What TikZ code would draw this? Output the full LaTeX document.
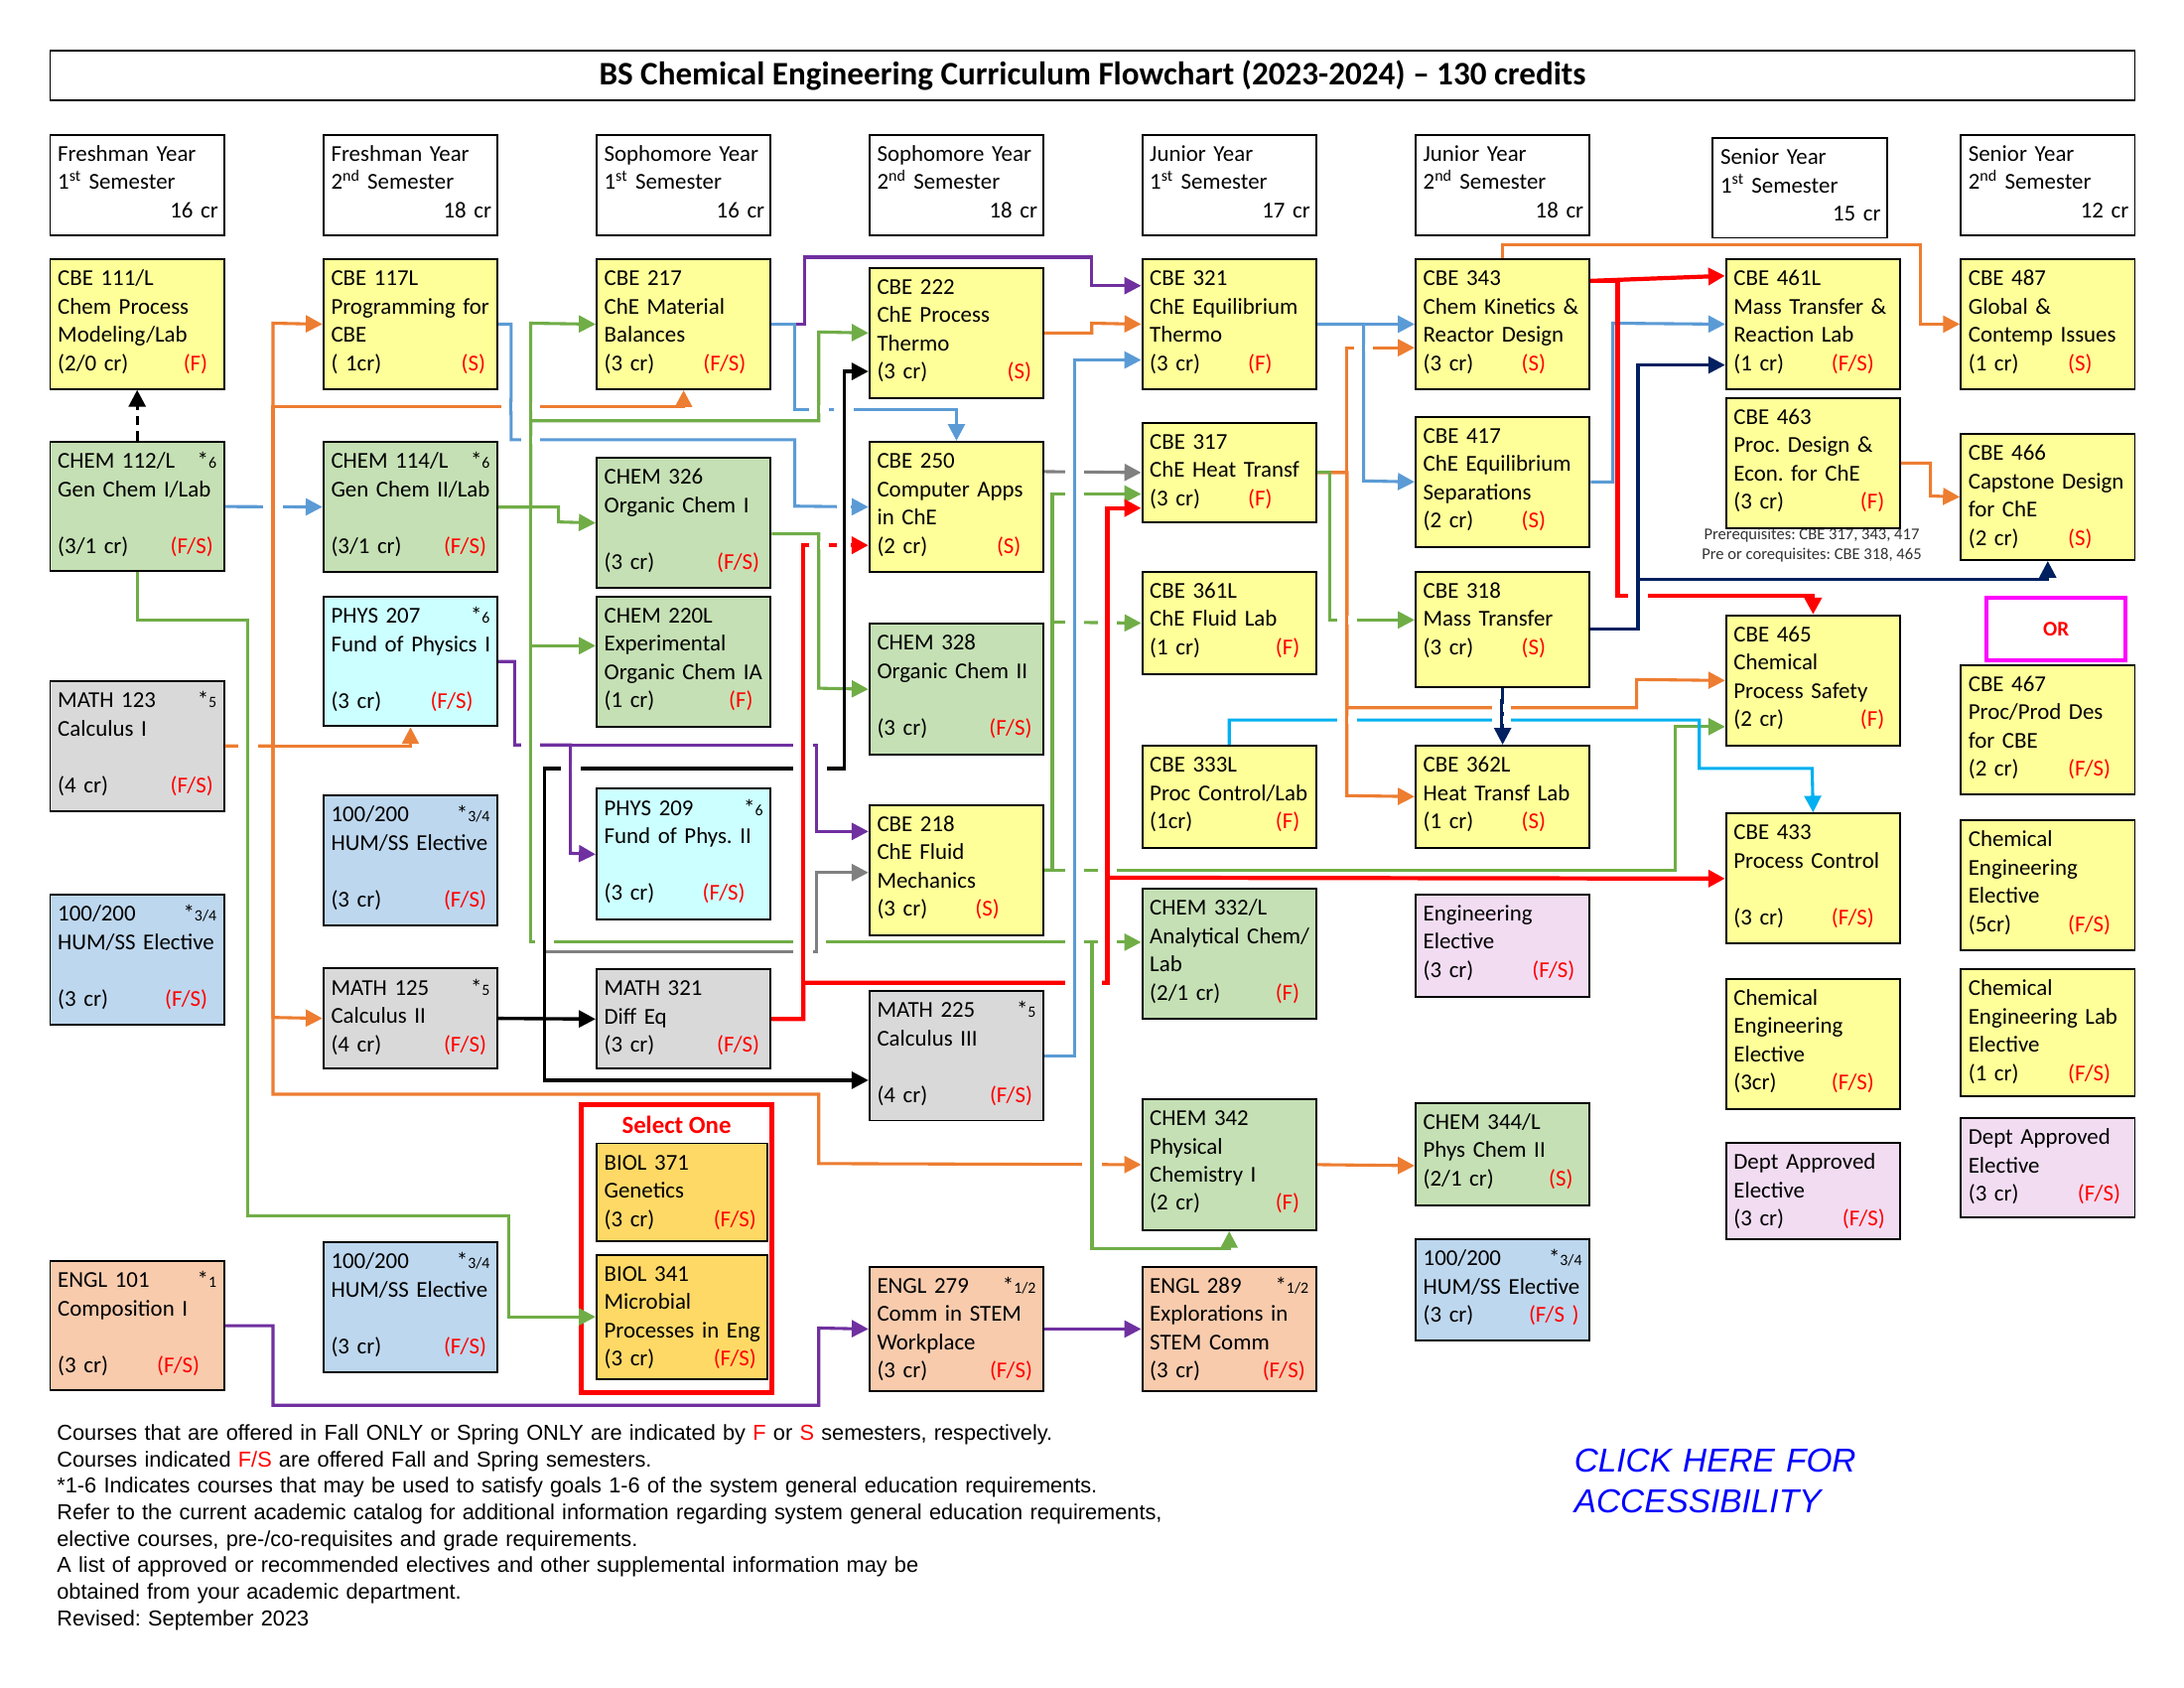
\documentclass[tikz,border=0pt]{standalone}
\usepackage{fontspec}
\setmainfont{Carlito}
\newfontfamily\arialfont{Liberation Sans}
\usetikzlibrary{arrows.meta}
\hyphenpenalty=10000
\exhyphenpenalty=10000
\frenchspacing
\definecolor{boxyellow}{HTML}{FFFF99}
\definecolor{boxgreen}{HTML}{C5E0B4}
\definecolor{boxgray}{HTML}{D9D9D9}
\definecolor{boxblue}{HTML}{BDD7EE}
\definecolor{boxcyan}{HTML}{CCFFFF}
\definecolor{boxpeach}{HTML}{F8CBAD}
\definecolor{boxpink}{HTML}{F2DCF2}
\definecolor{boxgold}{HTML}{FFD966}
\definecolor{lineblue}{HTML}{5B9BD5}
\definecolor{lineorange}{HTML}{ED7D31}
\definecolor{linegreen}{HTML}{70AD47}
\definecolor{linepurple}{HTML}{7030A0}
\definecolor{linered}{HTML}{FF0000}
\definecolor{linenavy}{HTML}{002060}
\definecolor{linecyan}{HTML}{00B0F0}
\definecolor{linegray}{HTML}{808080}
\definecolor{ormagenta}{HTML}{FF00FF}
\definecolor{clickblue}{HTML}{0000FF}
\newcommand\boxfont{\fontsize{16.3}{20.3}\selectfont}
\newcommand\notefont{\arialfont\fontsize{15.5}{19}\selectfont}
\newcommand\gen[1]{*{\fontsize{11.3}{12}\selectfont#1}\kern11.5pt}
\newcommand\crline[3]{\makebox[\dimexpr#1pt-0.1pt\relax][l]{#2}\textcolor{linered}{#3}}
\newcommand\hop[4][7]{\draw[white,line width=6pt] (#2-#1,#3) -- (#2+#1,#3);
  \draw[#4] (#2,#3-6) -- (#2,#3+6);}
\tikzset{
  course/.style={draw,line width=1.4pt,anchor=north west,inner sep=0pt,
    minimum width=125pt,text width=125pt,align=left,text height=19pt,font=\boxfont,
    execute at begin node={\leftskip=5.5pt\rightskip=-6pt plus 1fil}},
  bh/.code={\pgfmathsetmacro\bxd{#1-19}%
    \edef\bxtmp{\noexpand\tikzset{minimum height=#1pt,text depth=\bxd pt}}\bxtmp},
  hdr/.style={course,fill=white},
  yel/.style={course,fill=boxyellow},
  grn/.style={course,fill=boxgreen},
  gry/.style={course,fill=boxgray},
  blu/.style={course,fill=boxblue},
  cyn/.style={course,fill=boxcyan},
  pch/.style={course,fill=boxpeach},
  pnk/.style={course,fill=boxpink},
  gld/.style={course,fill=boxgold,minimum width=122.6pt,text width=122.6pt},
  link/.style={-{Triangle[length=12pt,width=12pt]}},
  pbl/.style={line width=2.2pt,draw=lineblue},
  pog/.style={line width=2.2pt,draw=lineorange},
  pgn/.style={line width=2.2pt,draw=linegreen},
  ppu/.style={line width=2.2pt,draw=linepurple},
  prd/.style={line width=3pt,draw=linered},
  pnv/.style={line width=2.2pt,draw=linenavy},
  pcy/.style={line width=2.2pt,draw=linecyan},
  pgy/.style={line width=2.2pt,draw=linegray},
  pbk/.style={line width=2.4pt,draw=black},
  lbl/.style={pbl,link}, log/.style={pog,link}, lgn/.style={pgn,link},
  lpu/.style={ppu,link}, lrd/.style={prd,link}, lnv/.style={pnv,link},
  lcy/.style={pcy,link}, lgy/.style={pgy,link}, lbk/.style={pbk,link}
}
\begin{document}
\begin{tikzpicture}[x=1pt,y=-1pt]
	\fill[white] (0,0) rectangle (1568,1211.6);
	\useasboundingbox (0,0) rectangle (1568,1211.6);
	%
	\node[draw,line width=1.4pt,anchor=north west,inner sep=0pt,minimum width=1496.7pt,minimum height=36.1pt,
	  font=\bfseries\fontsize{23.6}{28}\selectfont] (title) at (35.3,35.4)
	  {BS Chemical Engineering Curriculum Flowchart (2023-2024) – 130 credits};
	%
	\node[hdr,bh=72.5] (fr1) at (35.3,96) {Freshman Year\\1\textsuperscript{st} Semester\\\hfill 16 cr\kern10.4pt};
	\node[hdr,bh=72.5] (fr2) at (231.5,96) {Freshman Year\\2\textsuperscript{nd} Semester\\\hfill 18 cr\kern10.4pt};
	\node[hdr,bh=72.5] (so1) at (427.6,96) {Sophomore Year\\1\textsuperscript{st} Semester\\\hfill 16 cr\kern10.4pt};
	\node[hdr,bh=72.5] (so2) at (623.5,96) {Sophomore Year\\2\textsuperscript{nd} Semester\\\hfill 18 cr\kern10.4pt};
	\node[hdr,bh=72.5] (ju1) at (819.3,96) {Junior Year\\1\textsuperscript{st} Semester\\\hfill 17 cr\kern10.4pt};
	\node[hdr,bh=72.5] (ju2) at (1015.6,96) {Junior Year\\2\textsuperscript{nd} Semester\\\hfill 18 cr\kern10.4pt};
	\node[hdr,bh=71.4] (se1) at (1229,98.6) {Senior Year\\1\textsuperscript{st} Semester\\\hfill 15 cr\kern10.4pt};
	\node[hdr,bh=72.5] (se2) at (1407,96) {Senior Year\\2\textsuperscript{nd} Semester\\\hfill 12 cr\kern10.4pt};
	%
	% freshman 1
	\node[yel,bh=93] (cbe111) at (35.3,185.5) {CBE 111/L\\Chem Process\\Modeling/Lab\\\crline{90.3}{(2/0 cr)}{(F)}};
	\node[grn,bh=93] (chem112) at (35.3,316.4) {CHEM 112/L\hfill\gen{6}\\Gen Chem I/Lab\\\mbox{}\\\crline{81}{(3/1 cr)}{(F/S)}};
	\node[gry,bh=93] (math123) at (35.3,488.3) {MATH 123\hfill\gen{5}\\Calculus I\\\mbox{}\\\crline{81}{(4 cr)}{(F/S)}};
	\node[blu,bh=93] (hum1) at (35.3,641.7) {100/200\hfill\gen{3/4}\\HUM/SS Elective\\\mbox{}\\\crline{77}{(3 cr)}{(F/S)}};
	\node[pch,bh=93] (engl101) at (35.3,904.4) {ENGL 101\hfill\gen{1}\\Composition I\\\mbox{}\\\crline{71.3}{(3 cr)}{(F/S)}};
	% freshman 2
	\node[yel,bh=93.4] (cbe117) at (231.5,185.3) {CBE 117L\\Programming for\\CBE\\\crline{93.6}{(~1cr)}{(S)}};
	\node[grn,bh=93.6] (chem114) at (231.5,316.4) {CHEM 114/L\hfill\gen{6}\\Gen Chem II/Lab\\\mbox{}\\\crline{81}{(3/1 cr)}{(F/S)}};
	\node[cyn,bh=93] (phys207) at (231.5,427.6) {PHYS 207\hfill\gen{6}\\Fund of Physics I\\\mbox{}\\\crline{71.4}{(3 cr)}{(F/S)}};
	\node[blu,bh=93.3] (hum2a) at (231.5,570.2) {100/200\hfill\gen{3/4}\\HUM/SS Elective\\\mbox{}\\\crline{81}{(3 cr)}{(F/S)}};
	\node[gry,bh=71.6] (math125) at (231.5,694.5) {MATH 125\hfill\gen{5}\\Calculus II\\\crline{81}{(4 cr)}{(F/S)}};
	\node[blu,bh=93.2] (hum2b) at (231.5,891) {100/200\hfill\gen{3/4}\\HUM/SS Elective\\\mbox{}\\\crline{81}{(3 cr)}{(F/S)}};
	% sophomore 1
	\node[yel,bh=93.4] (cbe217) at (427.6,185.3) {CBE 217\\ChE Material\\Balances\\\crline{71.2}{(3 cr)}{(F/S)}};
	\node[grn,bh=93.5] (chem326) at (427.6,327.9) {CHEM 326\\Organic Chem I\\\mbox{}\\\crline{81}{(3 cr)}{(F/S)}};
	\node[grn,bh=93.6] (chem220) at (427.6,427.4) {CHEM 220L\\Experimental\\Organic Chem IA\\\crline{89.6}{(1 cr)}{(F)}};
	\node[cyn,bh=94] (phys209) at (427.6,565.5) {PHYS 209\hfill\gen{6}\\Fund of Phys. II\\\mbox{}\\\crline{70.6}{(3 cr)}{(F/S)}};
	\node[gry,bh=71.5] (math321) at (427.6,695) {MATH 321\\Diff Eq\\\crline{81}{(3 cr)}{(F/S)}};
	\node[gld,bh=70] (biol371) at (427.6,820) {BIOL 371\\Genetics\\\crline{78.6}{(3 cr)}{(F/S)}};
	\node[gld,bh=89] (biol341) at (427.6,900) {BIOL 341\\Microbial\\Processes in Eng\\\crline{78.6}{(3 cr)}{(F/S)}};
	\node[draw=linered,line width=3.5pt,anchor=north west,inner sep=0pt,minimum width=137pt,minimum height=207pt,
	  text height=21pt,text depth=186pt,font=\bfseries\fontsize{17.7}{20}\selectfont,text=linered] (selone) at (415.5,791) {Select One};
	% sophomore 2
	\node[yel,bh=93.6] (cbe222) at (623.5,191.5) {CBE 222\\ChE Process\\Thermo\\\crline{93.6}{(3 cr)}{(S)}};
	\node[yel,bh=93.6] (cbe250) at (623.5,316.4) {CBE 250\\Computer Apps\\in ChE\\\crline{86}{(2 cr)}{(S)}};
	\node[grn,bh=94] (chem328) at (623.5,447) {CHEM 328\\Organic Chem II\\\mbox{}\\\crline{80.6}{(3 cr)}{(F/S)}};
	\node[yel,bh=93.4] (cbe218) at (623.5,577) {CBE 218\\ChE Fluid\\Mechanics\\\crline{70.6}{(3 cr)}{(S)}};
	\node[gry,bh=92.8] (math225) at (623.5,710.8) {MATH 225\hfill\gen{5}\\Calculus III\\\mbox{}\\\crline{81}{(4 cr)}{(F/S)}};
	\node[pch,bh=89.5] (engl279) at (623.5,908.5) {ENGL 279\hfill\gen{1/2}\\Comm in STEM\\Workplace\\\crline{81}{(3 cr)}{(F/S)}};
	% junior 1
	\node[yel,bh=93.4] (cbe321) at (819.3,185.3) {CBE 321\\ChE Equilibrium\\Thermo\\\crline{70.6}{(3 cr)}{(F)}};
	\node[yel,bh=71.4] (cbe317) at (819.3,302.8) {CBE 317\\ChE Heat Transf\\\crline{70.6}{(3 cr)}{(F)}};
	\node[yel,bh=73.7] (cbe361) at (819.3,409.7) {CBE 361L\\ChE Fluid Lab\\\crline{90.4}{(1 cr)}{(F)}};
	\node[yel,bh=73.1] (cbe333) at (819.3,534.6) {CBE 333L\\Proc Control/Lab\\\crline{90.4}{(1cr)}{(F)}};
	\node[grn,bh=93.3] (chem332) at (819.3,637.2) {CHEM 332/L\\Analytical Chem/\\Lab\\\crline{90.3}{(2/1 cr)}{(F)}};
	\node[grn,bh=94.1] (chem342) at (819.3,788.2) {CHEM 342\\Physical\\Chemistry I\\\crline{90.3}{(2 cr)}{(F)}};
	\node[pch,bh=89.5] (engl289) at (819.3,908.5) {ENGL 289\hfill\gen{1/2}\\Explorations in\\STEM Comm\\\crline{81}{(3 cr)}{(F/S)}};
	% junior 2
	\node[yel,bh=93.4] (cbe343) at (1015.6,185.3) {CBE 343\\Chem Kinetics \&\\Reactor Design\\\crline{70.6}{(3 cr)}{(S)}};
	\node[yel,bh=93.6] (cbe417) at (1015.6,298.4) {CBE 417\\ChE Equilibrium\\Separations\\\crline{70.6}{(2 cr)}{(S)}};
	\node[yel,bh=82.6] (cbe318) at (1015.6,409.7) {CBE 318\\Mass Transfer\\\crline{70.6}{(3 cr)}{(S)}};
	\node[yel,bh=73.2] (cbe362) at (1015.6,534.5) {CBE 362L\\Heat Transf Lab\\\crline{70.6}{(1 cr)}{(S)}};
	\node[pnk,bh=73.3] (engelec) at (1015.6,641.3) {Engineering\\Elective\\\crline{78.3}{(3 cr)}{(F/S)}};
	\node[grn,bh=73.7] (chem344) at (1015.6,791) {CHEM 344/L\\Phys Chem II\\\crline{90.3}{(2/1 cr)}{(S)}};
	\node[blu,bh=73.1] (hum6) at (1015.6,888.7) {100/200\hfill\gen{3/4}\\HUM/SS Elective\\\crline{75.9}{(3 cr)}{(F/S~)}};
	% senior 1
	\node[yel,bh=93.4] (cbe461) at (1238.5,185.3) {CBE 461L\\Mass Transfer \&\\Reaction Lab\\\crline{70.3}{(1 cr)}{(F/S)}};
	\node[yel,bh=93.4] (cbe463) at (1238.5,285) {CBE 463\\Proc. Design \&\\Econ. for ChE\\\crline{91}{(3 cr)}{(F)}};
	\node[font=\fontsize{11.8}{14.7}\selectfont,text=black!80,align=center,inner sep=0pt] (prereq) at (1300.7,391.3)
	  {Prerequisites: CBE 317, 343, 417\\Pre or corequisites: CBE 318, 465};
	\node[yel,bh=93.5] (cbe465) at (1238.5,441) {CBE 465\\Chemical\\Process Safety\\\crline{91}{(2 cr)}{(F)}};
	\node[yel,bh=93.5] (cbe433) at (1238.5,583.2) {CBE 433\\Process Control\\\mbox{}\\\crline{70.3}{(3 cr)}{(F/S)}};
	\node[yel,bh=93.6] (cheel7) at (1238.5,701.8) {Chemical\\Engineering\\Elective\\\crline{70.3}{(3cr)}{(F/S)}};
	\node[pnk,bh=69.1] (dept7) at (1238.5,819.6) {Dept Approved\\Elective\\\crline{78.1}{(3 cr)}{(F/S)}};
	% senior 2
	\node[yel,bh=93.3] (cbe487) at (1407,185.3) {CBE 487\\Global \&\\Contemp Issues\\\crline{71.6}{(1 cr)}{(S)}};
	\node[yel,bh=90.6] (cbe466) at (1407,310.7) {CBE 466\\Capstone Design\\for ChE\\\crline{71.6}{(2 cr)}{(S)}};
	\node[draw=ormagenta,line width=3pt,anchor=north west,inner sep=0pt,minimum width=100pt,minimum height=44.8pt,
	  font=\bfseries\fontsize{15}{15}\selectfont,text=linered] (orbox) at (1424.7,427.5) {OR};
	\node[yel,bh=93.2] (cbe467) at (1407,476.6) {CBE 467\\Proc/Prod Des\\for CBE\\\crline{71.6}{(2 cr)}{(F/S)}};
	\node[yel,bh=93.4] (cheel8) at (1407,588) {Chemical\\Engineering\\Elective\\\crline{71.6}{(5cr)}{(F/S)}};
	\node[yel,bh=91.4] (chelab8) at (1407,695) {Chemical\\Engineering Lab\\Elective\\\crline{71.6}{(1 cr)}{(F/S)}};
	\node[pnk,bh=70.8] (dept8) at (1407,802) {Dept Approved\\Elective\\\crline{78.6}{(3 cr)}{(F/S)}};
	%
	% prerequisite links
	\draw[lbk,dash pattern=on 7pt off 4pt] (chem112.north) -- (cbe111.south);
	\draw[lpu] (cbe217.east) -| (577.5,184.6) -| (783.8,205.1) -- (cbe321.west |- 0,205.1);
	\draw[lpu] (engl101.east) -| (196,1008.7) -| (587.8,953.25) -- (engl279.west);
	\draw[lpu] (engl279.east) -- (engl289.west);
	\draw[lpu] (phys207.east) -| (369.5,534.6) -| (586.5,596.8) -- (cbe218.west |- 0,596.8);
	\draw[lpu] (phys207.east) -| (369.5,534.6) -| (409.6,612.5) -- (phys209.west);
	%
	\draw[lbl] (chem112.east) -- (chem114.west);
	\draw[lbl] (cbe117.east) -| (367,315.6) -| (570.6,363.3) -- (cbe250.west);
	\draw[lbl] (cbe217.east) -| (570.6,293.8) -| (cbe250.north);
	\draw[lbl] (math225.east) -| (771.6,258.4) -- (cbe321.west |- 0,258.4);
	\draw[lbl] (cbe321.east) -- (cbe343.west);
	\draw[lbl] (cbe321.east) -| (979,345.2) -- (cbe417.west);
	\draw[lbl] (cbe417.east) -| (1158,232) -- (cbe461.west);
	%
	\draw[log] (math123.east) -| (phys207.south);
	\draw[log] (math123.east) -| (196,232) -- (cbe117.west);
	\draw[log] (math123.east) -| (196,291.8) -| (cbe217.south);
	\draw[log] (math123.east) -| (196,730.3) -- (math125.west);
	\draw[log] (math123.east) -| (196,785.4) -| (587.8,835.2) -- (chem342.west);
	\draw[log] (cbe222.east) -| (783.8,232) -- (cbe321.west);
	\draw[log] (chem342.east) -- (chem344.west |- 0,836.7);
	\draw[log] (cbe317.east) -| (967,249.6) -- (cbe343.west |- 0,249.6);
	\draw[log] (cbe317.east) -| (967,571.1) -- (cbe362.west);
	\draw[log] (cbe317.east) -| (967,508) -| (1175,487.75) -- (cbe465.west);
	\draw[log] (cbe343.north) |- (1379,175.5) |- (cbe487.west);
	\draw[log] (cbe463.east) -| (1386,356) -- (cbe466.west);
	%
	\draw[lgn] (chem112.south) |- (178,445.4) |- (365,872.9) |- (biol341.west);
	\draw[lgn] (chem114.east) -| (381,232) -- (cbe217.west);
	\draw[lgn] (chem114.east) -| (401,374.65) -- (chem326.west);
	\draw[lgn] (chem114.east) -| (381,463.5) -- (chem220.west |- 0,463.5);
	\draw[lgn] (chem114.east) -| (381,302) -| (587.8,238.3) -- (cbe222.west);
	\draw[lgn] (chem114.east) -| (381,676.3) -- (chem332.west |- 0,676.3);
	\draw[lgn] (chem114.east) -| (381,676.3) -| (784,896) -| (chem342.south);
	\draw[lgn] (chem326.east |- 0,383.2) -| (587.8,494) -- (chem328.west);
	\draw[lgn] (cbe218.east) -| (755.5,354.6) -- (cbe317.west |- 0,354.6);
	\draw[lgn] (cbe218.east) -| (755.5,446.55) -- (cbe361.west);
	\draw[lgn] (cbe218.east) -| (1203,521.6) -- (cbe465.west |- 0,521.6);
	\draw[lgn] (cbe317.east) -| (955,445) -- (cbe318.west |- 0,445);
	%
	\draw[lrd] (math321.east) -| (576.7,391.4) -- (cbe250.west |- 0,391.4);
	\draw[lrd] (math321.east) -| (576.7,705.4) -| (795,364.7) -- (cbe317.west |- 0,364.7);
	\draw[lrd] (math321.east) -| (576.7,705.4) -| (795,630) -- (cbe433.west);
	\draw[lrd] (cbe343.east |- 0,201.6) -- (cbe461.west |- 0,198);
	\draw[lrd] (cbe343.east |- 0,201.6) -| (1161.4,427.4) -| (cbe465.north);
	%
	\draw[lnv] (cbe318.east) -| (1176,262) -- (cbe461.west |- 0,262);
	\draw[lnv] (cbe318.east) -| (1176,416) -| (cbe466.south);
	\draw[lnv] (cbe318.south) -- (cbe362.north);
	\draw[lcy] (cbe333.north) |- (1220,516.8) |- (1301,551.6) -- (cbe433.north);
	%
	\coordinate (mathjoin) at (391,683.3);
	\draw[lgy] (mathjoin) -| (586,626.3) -- (cbe218.west |- 0,626.3);
	\draw[lgy] (cbe250.east |- 0,338.5) -- (cbe317.west);
	\draw[lbk] (math125.east) -- (math321.west);
	\draw[lbk] (math125.east) -| (391,775.4) -- (math225.west |- 0,775.4);
	\draw[lbk] (math125.east) -| (391,551.6) -| (606,266.6) -- (cbe222.west |- 0,266.6);
	%
	% line jumps
	\hop{196}{363.1}{pog} \hop{367}{291.8}{pbl} \hop{381}{291.8}{pgn} \hop{381}{315.6}{pgn}
	\hop[5]{606}{363.2}{pbk} \hop{178}{534.8}{pgn} \hop{381}{534.6}{pgn} \hop{576.7}{534.6}{prd}
	\hop{409.6}{551.6}{ppu} \hop{576.7}{551.6}{prd} \hop{586.5}{551.6}{ppu}
	\hop{587.8}{293.8}{pgn} \hop{606}{293.8}{pbk} \hop{587.8}{391.4}{pgn} \hop[5]{606}{391.4}{pbk}
	\hop{391}{676.3}{pbk} \hop{576.7}{676.3}{prd} \hop{586}{676.3}{pgy} \hop{771.6}{676.3}{pbl}
	\hop{795}{676.3}{prd} \hop{576.7}{683.3}{prd} \hop{771.6}{623.7}{pbl} \hop{795}{623.7}{prd}
	\hop{771.6}{354.6}{pbl} \hop{771.6}{446.55}{pbl} \hop{795}{446.55}{prd}
	\hop{771.6}{705.4}{pbl} \hop{784}{705.4}{pgn} \hop{784}{835.2}{pgn} \hop{771.6}{338.5}{pbl}
	\hop{979}{249.6}{pbl} \hop{967}{445}{pog} \hop{967}{516.8}{pog}
	\hop{1078.1}{516.8}{pnv} \hop{1078.1}{508}{pnv} \hop{1176}{427.4}{pnv}
	%
	\node[anchor=north west,inner sep=0pt,text width=1000pt,align=left,text height=15pt,font=\notefont] (notes) at (40.7,1018.6)
	  {Courses that are offered in Fall ONLY or Spring ONLY are indicated by \textcolor{linered}{F} or \textcolor{linered}{S} semesters, respectively.\\
	   Courses indicated \textcolor{linered}{F/S} are offered Fall and Spring semesters.\\
	   {*}1-6 Indicates courses that may be used to satisfy goals 1-6 of the system general education requirements.\\
	   Refer to the current academic catalog for additional information regarding system general education requirements,\\
	   elective courses, pre-/co-requisites and grade requirements.\\
	   A list of approved or recommended electives and other supplemental information may be\\
	   obtained from your academic department.\\
	   Revised: September 2023};
	\node[anchor=north west,inner sep=0pt,text width=320pt,align=left,text height=20pt,
	  font=\arialfont\itshape\fontsize{23.8}{29}\selectfont,text=clickblue] (access) at (1130,1036.5) {CLICK HERE FOR\\ACCESSIBILITY};
\end{tikzpicture}
\end{document}
